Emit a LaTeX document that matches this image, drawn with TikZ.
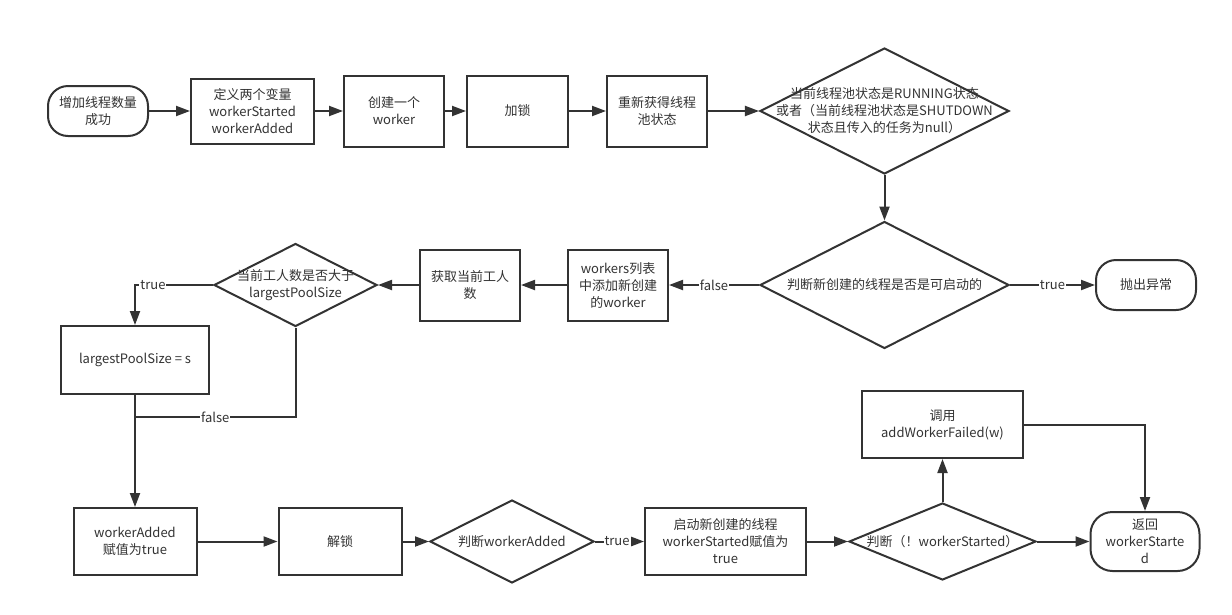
\documentclass[tikz,border=0pt]{standalone}
\usepackage{fontspec}
\setmainfont{Noto Sans CJK SC}
\usetikzlibrary{arrows.meta,shapes.geometric}
\definecolor{ink}{HTML}{333333}
\begin{document}
\begin{tikzpicture}[x=1pt,y=-1pt,
  txt/.style={text=ink, align=center, inner sep=0pt, font=\fontsize{13}{17}\selectfont},
  base/.style={txt, draw=ink, line width=2pt},
  box/.style={base, rectangle},
  term/.style={base, rectangle, rounded corners=20pt},
  dia/.style={base, diamond},
  conn/.style={draw=ink, line width=2pt, -{Triangle[length=14pt,width=10pt]}},
  line/.style={draw=ink, line width=2pt},
  lbl/.style={txt, fill=white, inner sep=1pt}]
\useasboundingbox (0,0) rectangle (1232,614);
\fill[white] (0,0) rectangle (1232,614);
% top row
\node[term, minimum width=100pt, minimum height=50pt] (start) at (98,111) {增加线程数量\\成功};
\node[box, minimum width=123pt, minimum height=65pt] (b1) at (252.5,111) {定义两个变量\\workerStarted\\workerAdded};
\node[box, minimum width=100pt, minimum height=71pt] (b2) at (394,111) {创建一个\\worker};
\node[box, minimum width=101pt, minimum height=71pt] (b3) at (517.5,111) {加锁};
\node[box, minimum width=100pt, minimum height=71pt] (b4) at (657,111) {重新获得线程\\池状态};
\node[dia, minimum width=249pt, minimum height=126pt] (d1) at (884.5,111) {};
\node[txt] (d1t) at (d1.center) {当前线程池状态是RUNNING状态\\或者（当前线程池状态是SHUTDOWN\\状态且传入的任务为null）};
% middle row
\node[dia, minimum width=249pt, minimum height=127pt] (d2) at (884.5,285) {};
\node[txt] (d2t) at (d2.center) {判断新创建的线程是否是可启动的};
\node[term, minimum width=100pt, minimum height=50pt] (t) at (1146,285) {抛出异常};
\node[box, minimum width=100pt, minimum height=71pt] (w) at (618,285) {workers列表\\中添加新创建\\的worker};
\node[box, minimum width=100pt, minimum height=71pt] (g) at (470,285) {获取当前工人\\数};
\node[dia, minimum width=163pt, minimum height=83pt] (d3) at (295.5,285) {};
\node[txt] (d3t) at (d3.center) {当前工人数是否大于\\largestPoolSize};
\node[box, minimum width=148pt, minimum height=68pt] (L) at (135,360) {largestPoolSize = s};
% bottom row
\node[box, minimum width=123pt, minimum height=67pt] (A) at (135,541.5) {workerAdded\\赋值为true};
\node[box, minimum width=123pt, minimum height=67pt] (U) at (340,541.5) {解锁};
\node[dia, minimum width=164pt, minimum height=83pt] (d4) at (512,541.5) {};
\node[txt] (d4t) at (d4.center) {判断workerAdded};
\node[box, minimum width=161pt, minimum height=67pt] (S) at (725.5,541.5) {启动新创建的线程\\workerStarted赋值为\\true};
\node[dia, minimum width=187pt, minimum height=77pt] (d5) at (942.5,541.5) {};
\node[txt] (d5t) at (d5.center) {判断（！workerStarted）};
\node[box, minimum width=161pt, minimum height=67pt] (F) at (942.5,424.5) {调用\\addWorkerFailed(w)};
\node[term, minimum width=109pt, minimum height=59pt, rounded corners=22pt] (R) at (1145,541.5) {返回\\workerStarte\\d};
\coordinate (j) at (135,417);
% connectors
\draw[conn] (start) -- (b1);
\draw[conn] (b1) -- (b2);
\draw[conn] (b2) -- (b3);
\draw[conn] (b3) -- (b4);
\draw[conn] (b4) -- (d1);
\draw[conn] (d1.south) -- (d2.north);
\draw[conn] (d2.west) -- node[lbl] (lf1) {false} (w.east);
\draw[conn] (d2.east) -- node[lbl] (lt1) {true} (t.west);
\draw[conn] (w) -- (g);
\draw[conn] (g) -- (d3.east);
\draw[conn] (d3.west) -| node[lbl, pos=0.385] (lt2) {true} (L.north);
\draw[line] (d3.south) |- node[lbl, pos=0.75] (lf2) {false} (j);
\draw[conn] (L) -- (A);
\draw[conn] (A) -- (U);
\draw[conn] (U) -- (d4.west);
\draw[conn] (d4.east) -- node[lbl, pos=0.45] (lt3) {true} (S.west);
\draw[conn] (S) -- (d5.west);
\draw[conn] (d5.north) -- (F.south);
\draw[conn] (d5.east) -- (R.west);
\draw[conn] (F.east) -| (R.north);
\end{tikzpicture}
\end{document}
